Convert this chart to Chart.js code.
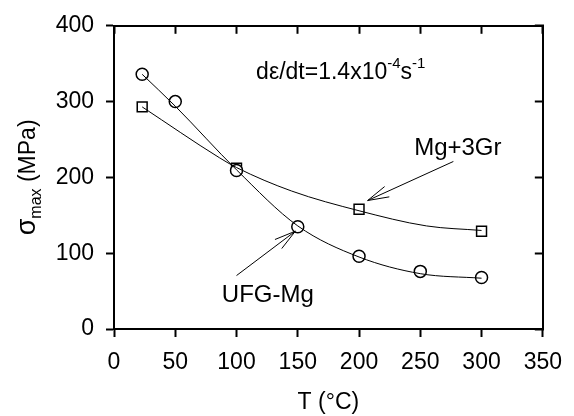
<!DOCTYPE html>
<html>
<head>
<meta charset="utf-8">
<script src="https://cdn.jsdelivr.net/npm/chart.js@4.4.0/dist/chart.umd.min.js"></script>
<style>
  html, body { margin: 0; padding: 0; background: #fff; }
</style>
</head>
<body>
<canvas id="stressChart" width="574" height="416"></canvas>
<script>
// measured points
var ufgTemp = [23, 50, 100, 150, 200, 250, 300];
var ufgStress = [336, 300, 209, 135, 96, 76, 68];
var grTemp = [23, 100, 200, 300];
var grStress = [293, 212, 158, 129];

// fitted curves
var ufgFitTemp = [23, 50, 100, 150, 200, 250, 300];
var ufgFitStress = [336, 294, 210, 136, 95, 73, 67];
var grFitTemp = [23, 86, 100, 145, 200, 255, 300];
var grFitStress = [293, 226, 213, 182, 156, 136, 130];

// axis ranges
var xRange = [0, 350];
var xStep = 50;
var yRange = [0, 400];
var yStep = 100;

// labels and arrows (in data units)
var rateLabel = { x: 116, y: 330 };
var grLabel = { text: 'Mg+3Gr', x: 245, y: 229 };
var ufgLabel = { text: 'UFG-Mg', x: 88, y: 35 };
var grArrow = { from: [277, 221], to: [207, 169.5] };
var ufgArrow = { from: [100, 70.5], to: [148, 129] };

var FONT = '"Liberation Sans", Arial, Helvetica, sans-serif';

function toPoints(xs, ys) {
    return xs.map(function (x, i) { return { x: x, y: ys[i] }; });
}

function drawArrow(ctx, x0, y0, x1, y1) {
    var ang = Math.atan2(y0 - y1, x0 - x1);
    var len = 22, spread = 0.26;
    ctx.beginPath();
    ctx.moveTo(x0, y0);
    ctx.lineTo(x1, y1);
    ctx.moveTo(x1 + len * Math.cos(ang + spread), y1 + len * Math.sin(ang + spread));
    ctx.lineTo(x1, y1);
    ctx.lineTo(x1 + len * Math.cos(ang - spread), y1 + len * Math.sin(ang - spread));
    ctx.stroke();
}

var annotations = {
    id: 'annotations',
    afterDraw: function (chart) {
        var ctx = chart.ctx;
        var xs = chart.scales.x, ys = chart.scales.y;
        ctx.save();
        ctx.fillStyle = '#000';
        ctx.strokeStyle = '#000';
        ctx.lineWidth = 1;
        ctx.textBaseline = 'alphabetic';
        ctx.textAlign = 'left';

        // strain rate
        var px = xs.getPixelForValue(rateLabel.x);
        var py = ys.getPixelForValue(rateLabel.y);
        var parts = [['d\u03b5/dt=1.4x10', 23, 0], ['-4', 15, -11], ['s', 23, 0], ['-1', 15, -11]];
        parts.forEach(function (p) {
            ctx.font = p[1] + 'px ' + FONT;
            ctx.fillText(p[0], px, py + p[2]);
            px += ctx.measureText(p[0]).width;
        });

        // series labels
        ctx.font = '24px ' + FONT;
        ctx.fillText(grLabel.text, xs.getPixelForValue(grLabel.x), ys.getPixelForValue(grLabel.y));
        ctx.fillText(ufgLabel.text, xs.getPixelForValue(ufgLabel.x), ys.getPixelForValue(ufgLabel.y));

        [grArrow, ufgArrow].forEach(function (a) {
            drawArrow(ctx,
                xs.getPixelForValue(a.from[0]), ys.getPixelForValue(a.from[1]),
                xs.getPixelForValue(a.to[0]), ys.getPixelForValue(a.to[1]));
        });

        // y axis title with subscript
        var cy = (chart.chartArea.top + chart.chartArea.bottom) / 2;
        ctx.translate(35, cy);
        ctx.rotate(-Math.PI / 2);
        var tparts = [['\u03c3', 27, 0], ['max', 16, 6], [' (MPa)', 23, 0]];
        var total = 0;
        tparts.forEach(function (p) {
            ctx.font = p[1] + 'px ' + FONT;
            total += ctx.measureText(p[0]).width;
        });
        var tx = -total / 2;
        tparts.forEach(function (p) {
            ctx.font = p[1] + 'px ' + FONT;
            ctx.fillText(p[0], tx, p[2]);
            tx += ctx.measureText(p[0]).width;
        });
        ctx.restore();
    }
};

var ctx = document.getElementById('stressChart').getContext('2d');

var tickFont = { family: FONT, size: 23 };

var stressChart = new Chart(ctx, {
    type: 'scatter',
    data: {
        datasets: [{
                label: 'UFG-Mg fit',
                data: toPoints(ufgFitTemp, ufgFitStress),
                showLine: true,
                pointRadius: 0,
                borderColor: '#000',
                borderWidth: 1,
                cubicInterpolationMode: 'monotone',
                fill: false,
            },
            {
                label: 'Mg+3Gr fit',
                data: toPoints(grFitTemp, grFitStress),
                showLine: true,
                pointRadius: 0,
                borderColor: '#000',
                borderWidth: 1,
                cubicInterpolationMode: 'monotone',
                fill: false,
            },
            {
                label: 'UFG-Mg',
                data: toPoints(ufgTemp, ufgStress),
                showLine: false,
                pointStyle: 'circle',
                pointRadius: 6,
                pointBorderWidth: 1.5,
                pointBorderColor: '#000',
                pointBackgroundColor: '#fff',
            },
            {
                label: 'Mg+3Gr',
                data: toPoints(grTemp, grStress),
                showLine: false,
                pointStyle: 'rect',
                pointRadius: 7,
                pointBorderWidth: 1.5,
                pointBorderColor: '#000',
                pointBackgroundColor: '#fff',
            },
        ],
    },
    options: {
        responsive: false,
        animation: false,
        devicePixelRatio: 1,
        layout: { padding: 0 },
        plugins: {
            legend: { display: false },
            tooltip: { enabled: false },
        },
        scales: {
            x: {
                type: 'linear',
                position: 'bottom',
                min: xRange[0],
                max: xRange[1],
                ticks: { stepSize: xStep, padding: 12, color: '#000', font: tickFont, maxRotation: 0 },
                grid: { drawOnChartArea: false, tickLength: 8, tickWidth: 2, tickColor: '#000' },
                border: { color: '#000', width: 2 },
                title: { display: true, text: 'T (\u00b0C)', color: '#000', font: tickFont, padding: { top: 0, bottom: 0 } },
                afterFit: function (s) { s.height = 87; },
            },
            y: {
                type: 'linear',
                position: 'left',
                min: yRange[0],
                max: yRange[1],
                ticks: { stepSize: yStep, padding: 12, color: '#000', font: tickFont },
                grid: { drawOnChartArea: false, tickLength: 8, tickWidth: 2, tickColor: '#000' },
                border: { color: '#000', width: 2 },
                afterFit: function (s) { s.width = 114; },
            },
            x2: {
                type: 'linear',
                position: 'top',
                min: xRange[0],
                max: xRange[1],
                ticks: { stepSize: xStep, display: false },
                grid: { drawOnChartArea: false, tickLength: -8, tickWidth: 2, tickColor: '#000' },
                border: { color: '#000', width: 2 },
                afterFit: function (s) { s.height = 17; },
            },
            y2: {
                type: 'linear',
                position: 'right',
                min: yRange[0],
                max: yRange[1],
                ticks: { stepSize: yStep, display: false },
                grid: { drawOnChartArea: false, tickLength: -8, tickWidth: 2, tickColor: '#000' },
                border: { color: '#000', width: 2 },
                afterFit: function (s) { s.width = 26; },
            },
        },
    },
    plugins: [annotations],
});
</script>
</body>
</html>
